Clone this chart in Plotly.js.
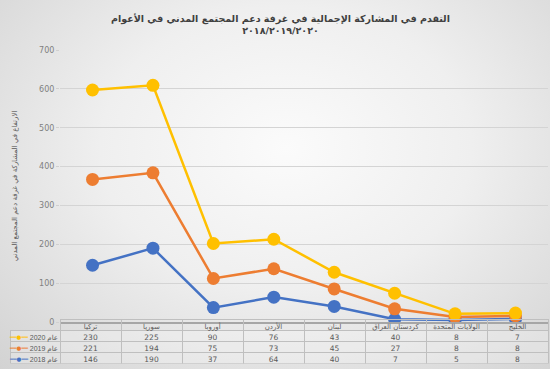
<!DOCTYPE html>
<html>
<head>
<meta charset="utf-8">
<script src="https://cdn.plot.ly/plotly-3.0.1.min.js"></script>
<style>
html,body{margin:0;padding:0;}
body{width:550px;height:369px;overflow:hidden;
background:radial-gradient(ellipse 75% 85% at 52% 40%, #fbfbfb 0%, #efefef 45%, #d2d2d2 100%);}
#chart{width:550px;height:369px;}
</style>
</head>
<body>
<div id="chart"></div>
<script>
const categories = ['تركيا','سوريا','أوروبا','الأردن','لبنان','كردستان العراق','الولايات المتحدة','الخليج'];
const v2018 = [146,190,37,64,40,7,5,8];
const v2019 = [221,194,75,73,45,27,8,8];
const v2020 = [230,225,90,76,43,40,8,7];
const seriesNames = ['عام 2018','عام 2019','عام 2020'];
const colors = ['#4472C4','#ED7D31','#FFC000'];
const yTicks = [0,100,200,300,400,500,600,700];

const series = [v2018, v2019, v2020];
const traces = series.map((v,i)=>({
  type:'scatter', mode:'lines+markers', x:categories, y:v,
  stackgroup:'one', fill:'none', name:seriesNames[i],
  line:{color:colors[i], width:2.5}, marker:{color:colors[i], size:13},
  showlegend:false, xaxis:'x', yaxis:'y', hoverinfo:'skip'
}));

const W = 548, H = 314; // plotting area size (inside margins)
const nb = s => s.split(' ').join('\u00a0');
const order = [2,1,0];
const legendLabels = order.map(i=>seriesNames[i].split(' ')[1]+'\u00a0'+seriesNames[i].split(' ')[0]);
const numCols = categories.map((c,k)=>[v2020[k],v2019[k],v2018[k]]);
const lineCols = ['rgba(0,0,0,0)'].concat(categories.map(()=> '#bfbfbf'));
const widths = [50].concat(categories.map(()=>61));
const gridY = [0, 44.6/H];
const textY = [0, 48.6/H];   // text tables nudged up so text sits centred in the grid rows
const none = {color:'rgba(0,0,0,0)', width:0};
const clear = {color:'rgba(0,0,0,0)'};

// grid (borders + fills)
traces.push({
  type:'table', domain:{x:[10/W,1], y:gridY}, columnwidth:widths,
  header:{values:widths.map(()=>''), height:11, line:{color:lineCols, width:1}, fill:clear},
  cells:{values:widths.map(()=>['','','']), height:11,
    line:{color:'#bfbfbf', width:1}, fill:{color:'rgba(255,255,255,0.25)'}}
});
// table text
traces.push({
  type:'table', domain:{x:[10/W,1], y:textY}, columnwidth:widths,
  header:{values:[''].concat(categories.map(nb)), height:11, align:'center', line:none, fill:clear,
    font:{family:'DejaVu Sans', size:7, color:'#595959'}},
  cells:{values:[['','','']].concat(numCols), height:11, align:'center', line:none, fill:clear,
    font:{family:'DejaVu Sans', size:7.5, color:'#595959'}}
});
// legend keys
traces.push({
  type:'table', domain:{x:[2/W,40/W], y:textY}, columnwidth:[1],
  header:{values:[''], height:11, line:none, fill:clear},
  cells:{values:[order.map(()=> '━━●━━')], height:11, align:'left', line:none, fill:clear,
    font:{family:'DejaVu Sans', size:5.5, color:[order.map(i=>colors[i])]}}
});
// legend labels
traces.push({
  type:'table', domain:{x:[4/W,66/W], y:textY}, columnwidth:[1],
  header:{values:[''], height:11, line:none, fill:clear},
  cells:{values:[legendLabels], height:11, align:'right', line:none, fill:clear,
    font:{family:'Liberation Sans, DejaVu Sans', size:7, color:'#595959'}}
});

const layout = {
  width:550, height:369,
  paper_bgcolor:'rgba(0,0,0,0)', plot_bgcolor:'rgba(0,0,0,0)',
  margin:{l:0, r:2, t:50, b:5},
  title:{text:'<b>التقدم في المشاركة الإجمالية في غرفة دعم المجتمع المدني في الأعوام<br>٢٠١٨/٢٠١٩/٢٠٢٠</b>',
    font:{family:'DejaVu Sans', size:9.5, color:'#404040'}, x:0.51, xanchor:'center', y:0.94, yanchor:'middle'},
  xaxis:{domain:[60/W,1], showticklabels:false, showgrid:false, zeroline:false,
    showline:true, linecolor:'#a6a6a6', linewidth:2, ticks:'', fixedrange:true},
  yaxis:{domain:[42/H,1], range:[0,700], tickvals:yTicks, showgrid:true, gridcolor:'#d4d4d4', gridwidth:1,
    zeroline:false, ticks:'outside', ticklen:3, tickcolor:'#d0d0d0',
    tickfont:{family:'DejaVu Sans', size:8, color:'#7f7f7f'},
    title:{text:'الارتفاع في المشاركة في غرفة دعم المجتمع المدني', standoff:20,
      font:{family:'DejaVu Sans', size:7, color:'#595959'}}}
};
Plotly.newPlot('chart', traces, layout, {staticPlot:true, displayModeBar:false});
</script>
</body>
</html>
